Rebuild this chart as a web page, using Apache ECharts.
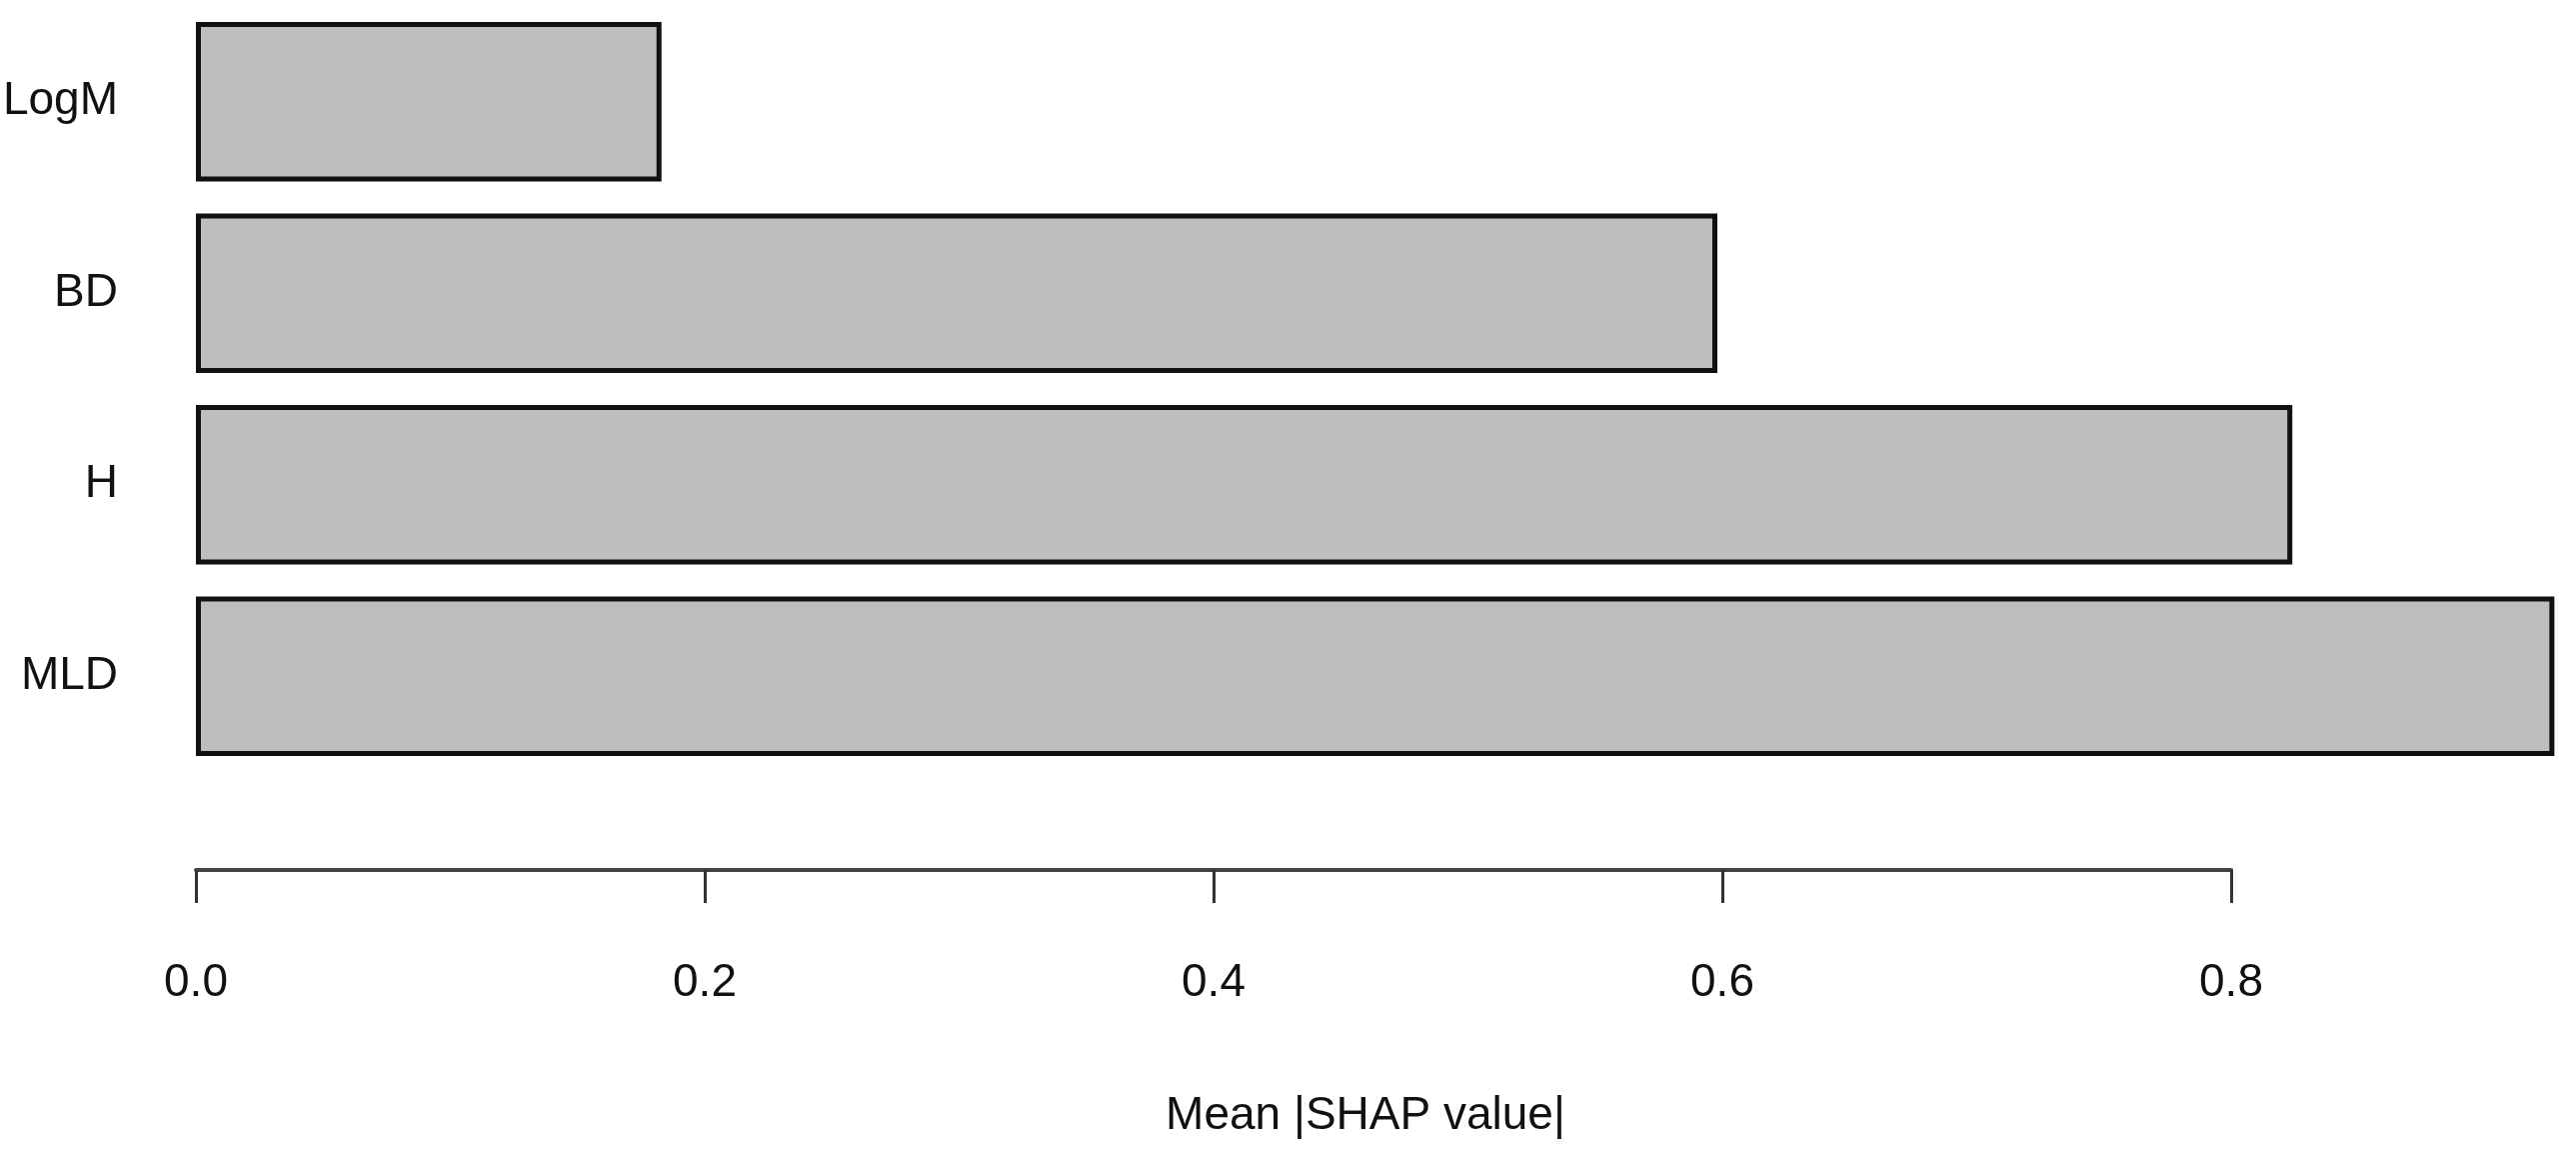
<!DOCTYPE html>
<html lang="en">
<head>
    <meta charset="UTF-8">
    <title>Mean |SHAP value|</title>
    <script src="https://cdn.jsdelivr.net/npm/echarts@6/dist/echarts.min.js"></script>
    <style>
        html, body { margin: 0; padding: 0; background: #fff; }
        #chart { width: 2577px; height: 1170px; }
    </style>
</head>
<body>
    <div id="chart"></div>
</body>
<script>
// 数据 (top to bottom)
var features = ['LogM', 'BD', 'H', 'MLD'];
var shapValues = [0.183, 0.598, 0.824, 0.927];
var tickValues = [0.0, 0.2, 0.4, 0.6, 0.8];

var font = "'Liberation Sans Narrow', 'Liberation Sans', Arial, sans-serif";

var myecharts = echarts.init(document.getElementById('chart'));
var option = {
    backgroundColor: '#ffffff',
    animation: false,
    title: {
        text: 'Mean |SHAP value|',
        left: 1361,
        top: 1088,
        textAlign: 'center',
        textStyle: { fontFamily: font, fontSize: 46, fontWeight: 'normal', color: '#111' }
    },
    grid: [
        // bars
        { left: 196, top: 6, width: 2367, height: 766, outerBoundsMode: 'none', containLabel: false },
        // axis 0 .. 0.8 only (R style)
        { left: 196, top: 860, width: 2036, height: 10, outerBoundsMode: 'none', containLabel: false }
    ],
    xAxis: [
        { gridIndex: 0, type: 'value', min: 0, max: 0.93, show: false },
        {
            gridIndex: 1, type: 'value', position: 'bottom',
            min: tickValues[0], max: tickValues[tickValues.length - 1], interval: 0.2,
            axisLine: { show: true, lineStyle: { color: '#444', width: 4 } },
            axisTick: { show: true, length: 33, lineStyle: { color: '#333', width: 3 } },
            splitLine: { show: false },
            axisLabel: {
                margin: 90,
                fontFamily: font, fontSize: 46, color: '#111',
                formatter: function (v) { return v.toFixed(1); }
            }
        }
    ],
    yAxis: [
        {
            gridIndex: 0, type: 'category', data: features, inverse: true,
            axisLine: { show: false }, axisTick: { show: false },
            axisLabel: { margin: 78, fontFamily: font, fontSize: 46, color: '#111' }
        },
        { gridIndex: 1, type: 'value', show: false }
    ],
    series: [
        {
            type: 'bar',
            xAxisIndex: 0, yAxisIndex: 0,
            data: shapValues,
            barCategoryGap: '16.7%',
            itemStyle: { color: '#bebebe', borderColor: '#111', borderWidth: 5 }
        },
        { type: 'scatter', xAxisIndex: 1, yAxisIndex: 1, data: [] }
    ]
};
myecharts.setOption(option);
</script>
</html>
